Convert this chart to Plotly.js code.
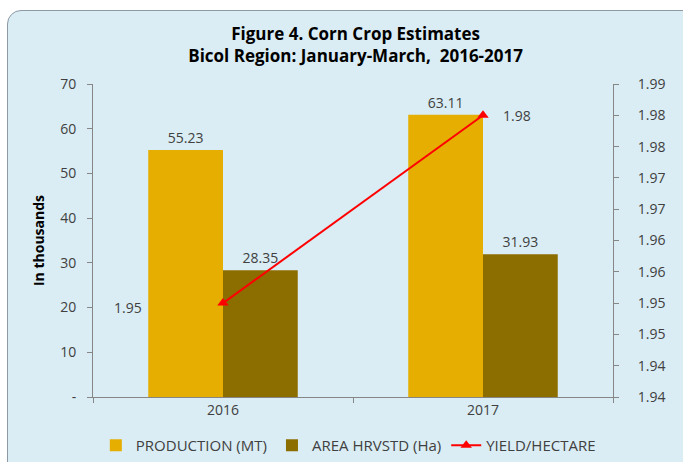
<!DOCTYPE html>
<html><head><meta charset="utf-8">
<script src="https://cdn.plot.ly/plotly-3.0.1.min.js"></script>
<style>
html,body{margin:0;padding:0;background:#fff;width:683px;height:462px;overflow:hidden;}
#frame{position:absolute;left:7px;top:10px;width:700px;height:470px;background:#DAEDF4;border:1px solid #8e99a6;border-radius:14px;}
#chart{position:absolute;left:0;top:0;width:683px;height:462px;}
</style></head>
<body>
<div id="frame"></div>
<div id="chart"></div>
<script>
const categories = ['2016', '2017'];
const production = [55.23, 63.11];
const areaHarvested = [28.35, 31.93];
const yieldPerHectare = [1.955, 1.985];
const yieldLabels = ['1.95', '1.98'];
const leftTickVals = [0, 10, 20, 30, 40, 50, 60, 70];
const leftTickText = ['-', '10', '20', '30', '40', '50', '60', '70'];
const rightTickVals = [1.94, 1.945, 1.95, 1.955, 1.96, 1.965, 1.97, 1.975, 1.98, 1.985, 1.99];
const rightTickText = ['1.94', '1.94', '1.95', '1.95', '1.96', '1.96', '1.97', '1.97', '1.98', '1.98', '1.99'];

const font = 'Open Sans, Liberation Sans, sans-serif';
const txt = '#404040';

const traces = [
  {type:'bar', name:'PRODUCTION (MT)', x:categories, y:production,
   marker:{color:'#E5AE00'}, text:production.map(v=>v.toFixed(2)), textposition:'outside',
   textfont:{size:14,color:txt,family:font}, cliponaxis:false},
  {type:'bar', name:'AREA HRVSTD (Ha)', x:categories, y:areaHarvested,
   marker:{color:'#8C6D00'}, text:areaHarvested.map(v=>v.toFixed(2)), textposition:'outside',
   textfont:{size:14,color:txt,family:font}, cliponaxis:false},
  {type:'scatter', mode:'lines+markers', name:'YIELD/HECTARE', x:categories, y:yieldPerHectare,
   yaxis:'y2', line:{color:'#FF0000', width:2}, marker:{symbol:'triangle-up', size:10, color:'#FF0000'},
   cliponaxis:false}
];

const yieldShifts = [-95, 34];
const annotations = categories.map((c, i) => ({
  x: i, y: yieldPerHectare[i], xref: 'x', yref: 'y2', text: yieldLabels[i], showarrow: false,
  xshift: yieldShifts[i], yshift: i === 0 ? -4 : 0, font: {size:14, color:txt, family:font}
}));

const layout = {
  width:683, height:462,
  margin:{l:93, r:70, t:84, b:65},
  paper_bgcolor:'rgba(0,0,0,0)', plot_bgcolor:'rgba(0,0,0,0)',
  font:{family:font, color:txt, size:14},
  title:{text:'<b>Figure 4. Corn Crop Estimates</b><br><b>Bicol Region: January-March,  2016-2017</b>',
         x:0.505, xref:'paper', y:0.914, yanchor:'middle', font:{size:17, color:'#000', family:font}},
  barmode:'group', bargap:0.425, bargroupgap:0,
  showlegend:true,
  legend:{orientation:'h', x:0.51, xanchor:'center', xref:'container', y:-0.026, yref:'container', yanchor:'bottom',
          font:{size:15, color:txt, family:font}, traceorder:'normal'},
  annotations: annotations,
  xaxis:{type:'category', categoryarray:categories, showline:true, linecolor:'#868686', ticks:'outside', tickson:'boundaries',
         ticklen:5, tickcolor:'#868686', showgrid:false, tickfont:{size:14,color:txt}},
  yaxis:{range:[0,70], tickvals:leftTickVals, ticktext:leftTickText, showline:true, linecolor:'#868686',
         ticks:'outside', ticklen:5, tickcolor:'#868686', showgrid:false, zeroline:false,
         tickfont:{size:14,color:txt}, ticklabelstandoff:8,
         title:{text:'<b>In thousands</b>', font:{size:14,color:'#000'}, standoff:12}},
  yaxis2:{overlaying:'y', side:'right', range:[1.94,1.99], tickvals:rightTickVals, ticktext:rightTickText,
          showline:true, linecolor:'#868686', ticks:'outside', ticklen:5, tickcolor:'#868686',
          showgrid:false, zeroline:false, tickfont:{size:14,color:txt}, ticklabelstandoff:16}
};

Plotly.newPlot('chart', traces, layout, {displayModeBar:false, staticPlot:true});
</script>
</body></html>
